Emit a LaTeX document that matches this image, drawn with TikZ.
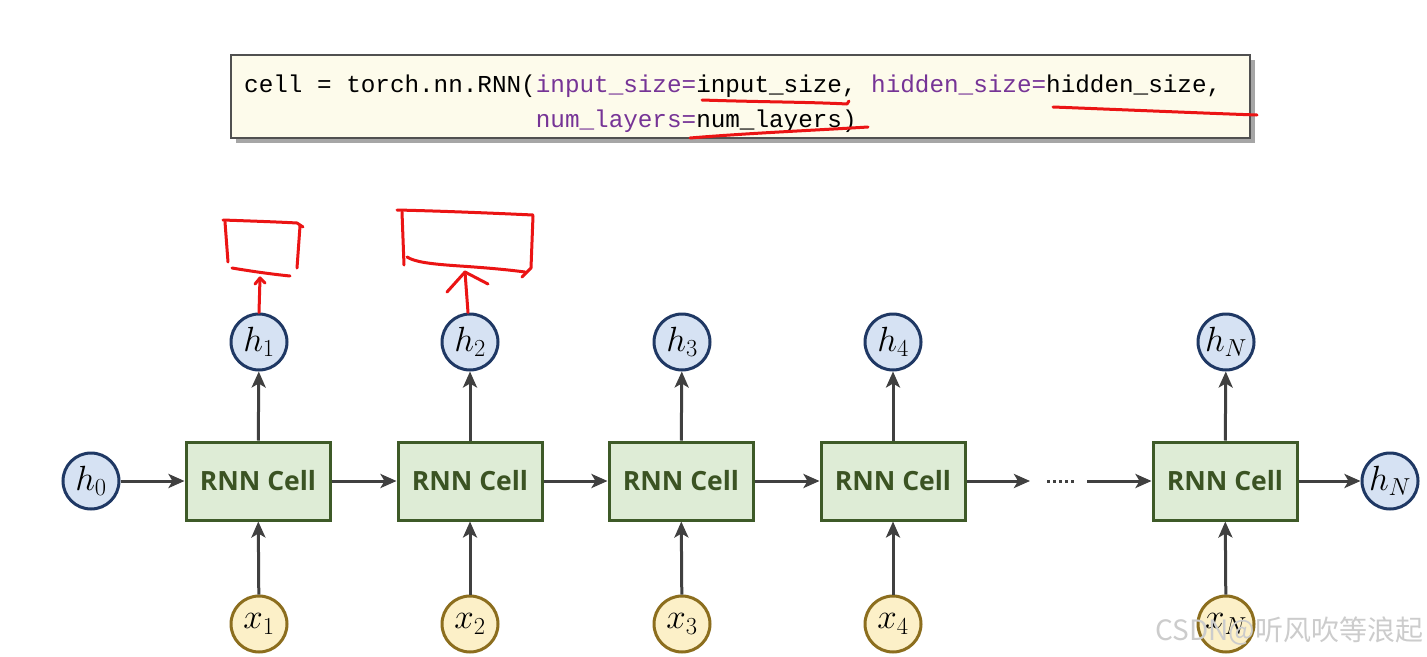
\RequirePackage{fix-cm}
\documentclass[tikz,border=0pt]{standalone}
\usepackage{fontspec}
\setmonofont{Liberation Mono}
\newfontfamily\cellfont{Open Sans}
\newfontfamily\cjkwm{Noto Sans CJK SC}
\usetikzlibrary{arrows.meta}
\definecolor{hfill}{RGB}{214,226,243}
\definecolor{hdraw}{RGB}{31,56,100}
\definecolor{xfill}{RGB}{252,240,200}
\definecolor{xdraw}{RGB}{140,110,30}
\definecolor{cfill}{RGB}{222,236,214}
\definecolor{cdraw}{RGB}{62,90,40}
\definecolor{ctext}{RGB}{59,83,35}
\definecolor{arr}{RGB}{64,64,64}
\definecolor{codebg}{RGB}{253,251,235}
\definecolor{codeborder}{RGB}{80,80,80}
\definecolor{kw}{RGB}{118,52,150}
\definecolor{pen}{RGB}{235,20,20}
\tikzset{
  hnode/.style={circle, draw=hdraw, fill=hfill, line width=3pt, minimum size=56pt, inner sep=0pt, font=\fontsize{35}{38}\selectfont},
  xnode/.style={circle, draw=xdraw, fill=xfill, line width=3pt, minimum size=56pt, inner sep=0pt, font=\fontsize{35}{38}\selectfont},
  cellbox/.style={rectangle, draw=cdraw, fill=cfill, line width=3pt, minimum width=144pt, minimum height=78pt, inner sep=0pt, text=ctext, font=\cellfont\bfseries\fontsize{26.5}{30}\selectfont},
  flow/.style={draw=arr, line width=3pt, -{Stealth[length=16pt,width=14pt,inset=4pt]}},
  codebox/.style={rectangle, draw=codeborder, fill=codebg, line width=1.2pt, minimum width=1019pt, minimum height=83pt, inner sep=0pt},
  codetext/.style={anchor=base west, inner sep=0pt, font=\ttfamily\fontsize{24.3}{30}\selectfont},
  ink/.style={draw=pen, line width=3pt, line cap=round, line join=round},
  wm/.style={text=black!20, font=\cjkwm\fontsize{28}{30}\selectfont, inner sep=0pt, anchor=base west}
}
\begin{document}
\begin{tikzpicture}[x=1pt,y=-1pt]
\useasboundingbox[fill=white] (0,0) rectangle (1427,656);
% code box with shadow
\fill[black!35] (236,60) rectangle (1255,143);
\node[codebox] (code) at (740.5,96.5) {};
\node[codetext] (line1) at (244,92) {cell = torch.nn.RNN(\textcolor{kw}{input\_size=}input\_size, \textcolor{kw}{hidden\_size=}hidden\_size,};
\node[codetext] (line2) at (244,127) {\phantom{cell = torch.nn.RNN(}\textcolor{kw}{num\_layers=}num\_layers)};
% red handwritten marks
\draw[ink] (702,100) .. controls (760,102) and (810,102) .. (847,104) -- (849,101);
\draw[ink] (1053,107) .. controls (1130,110) and (1200,113) .. (1257,115);
\draw[ink] (690,138) .. controls (750,133) and (820,130) .. (868,127);
% box 1
\draw[ink] (223,220) .. controls (250,221) and (280,222) .. (297,223) -- (303,227);
\draw[ink] (225,222) -- (228,262);
\draw[ink] (232,268) .. controls (250,271) and (270,274) .. (290,276);
\draw[ink] (300,226) -- (297,268);
% box 2
\draw[ink] (397,210) .. controls (440,211) and (490,213) .. (533,215);
\draw[ink] (402,212) -- (404,265);
\draw[ink] (407,257) .. controls (415,262) and (430,264) .. (460,266) .. controls (490,268) and (510,270) .. (525,272);
\draw[ink] (533,216) -- (531,268) -- (522,277);
% h nodes
\node[hnode] (h0) at (91,481) {$h_0$};
\node[hnode] (h1) at (259,342) {$h_1$};
\node[hnode] (h2) at (470,342) {$h_2$};
\node[hnode] (h3) at (682,342) {$h_3$};
\node[hnode] (h4) at (893,342) {$h_4$};
\node[hnode] (hN) at (1226,342) {$h_N$};
\node[hnode] (hNr) at (1390,481) {$h_N$};
% cells
\node[cellbox] (c1) at (258,481) {RNN Cell};
\node[cellbox] (c2) at (470,481) {RNN Cell};
\node[cellbox] (c3) at (681,481) {RNN Cell};
\node[cellbox] (c4) at (893,481) {RNN Cell};
\node[cellbox] (c5) at (1225,481) {RNN Cell};
% x nodes
\node[xnode] (x1) at (259,624) {$x_1$};
\node[xnode] (x2) at (470,624) {$x_2$};
\node[xnode] (x3) at (682,624) {$x_3$};
\node[xnode] (x4) at (893,624) {$x_4$};
\node[xnode] (xN) at (1226,624) {$x_N$};
% red arrows from h1, h2 to boxes
\coordinate (r1) at (260,278);
\coordinate (r2) at (465,272);
\draw[ink] (h1.north) -- (r1);
\draw[ink] (255,284) -- (r1) -- (265,283);
\draw[ink] (h2.north) ++(-2,0) -- (r2);
\draw[ink] (447,292) -- (r2) -- (488,284);
% horizontal flow
\draw[flow] (h0) -- (c1);
\draw[flow] (c1) -- (c2);
\draw[flow] (c2) -- (c3);
\draw[flow] (c3) -- (c4);
\coordinate (e4) at (1030,481);
\coordinate (s5) at (1087,481);
\coordinate (d1) at (1047,481);
\coordinate (d2) at (1076,481);
\draw[flow] (c4) -- (e4);
\draw[draw=arr, line width=3pt, dash pattern=on 2.5pt off 3.5pt] (d1) -- (d2);
\draw[flow] (s5) -- (c5);
\draw[flow] (c5) -- (hNr);
% vertical flow
\foreach \i in {1,2,3,4}{
  \draw[flow] (c\i) -- (h\i);
  \draw[flow] (x\i) -- (c\i);
}
\draw[flow] (c5) -- (hN);
\draw[flow] (xN) -- (c5);
% watermark
\node[wm] (wmk) at (1155,640) {CSDN@听风吹等浪起};
\end{tikzpicture}
\end{document}
